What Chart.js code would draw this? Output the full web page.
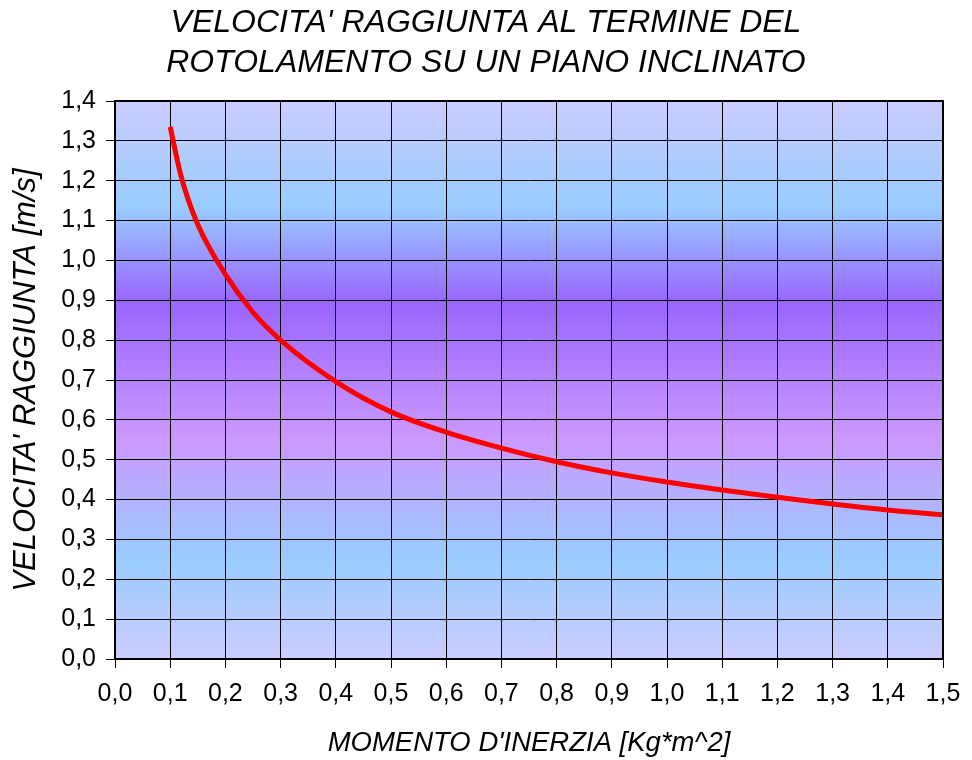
<!DOCTYPE html>
<html>
<head>
<meta charset="utf-8">
<script src="https://cdn.jsdelivr.net/npm/chart.js@4"></script>
<style>
  body { margin: 0; background: #fff; }
  #wrap { width: 972px; height: 760px; }
</style>
</head>
<body>
<div id="wrap"><canvas id="myChart" width="972" height="760"></canvas></div>
<script>
const titleLines = ["VELOCITA' RAGGIUNTA AL TERMINE DEL", "ROTOLAMENTO SU UN PIANO INCLINATO"];
const xTitle = "MOMENTO D'INERZIA [Kg*m^2]";
const yTitle = "VELOCITA' RAGGIUNTA [m/s]";

// momento d'inerzia (x) and velocita' (y)
const inertia = [0.1, 0.12, 0.15, 0.2, 0.25, 0.3, 0.4, 0.5, 0.6, 0.7, 0.8, 0.9, 1.0, 1.1, 1.2, 1.3, 1.4, 1.5];
const speed = [1.335, 1.21, 1.09, 0.965, 0.87, 0.8, 0.696, 0.62, 0.569, 0.529, 0.495, 0.467, 0.444, 0.424, 0.406, 0.389, 0.374, 0.362];

const fontFamily = "'Liberation Sans', Arial, sans-serif";

function formatTick(value) {
  return value.toFixed(1).replace(".", ",");
}

const plotBackground = {
  id: "plotBackground",
  beforeDraw(chart) {
    const { ctx, chartArea } = chart;
    ctx.save();
    ctx.fillStyle = "#fff";
    ctx.fillRect(0, 0, chart.width, chart.height);
    const g = ctx.createLinearGradient(0, chartArea.top, 0, chartArea.bottom);
    g.addColorStop(0, "#ccccff");
    g.addColorStop(0.19, "#99ccff");
    g.addColorStop(0.36, "#9966ff");
    g.addColorStop(0.61, "#cc99ff");
    g.addColorStop(0.82, "#99ccff");
    g.addColorStop(1, "#ccccff");
    ctx.fillStyle = g;
    ctx.fillRect(chartArea.left, chartArea.top, chartArea.right - chartArea.left, chartArea.bottom - chartArea.top);
    ctx.restore();
  },
  afterDatasetsDraw(chart) {
    const { ctx, chartArea } = chart;
    ctx.save();
    ctx.strokeStyle = "#000";
    ctx.lineWidth = 2;
    ctx.strokeRect(chartArea.left, chartArea.top, chartArea.right - chartArea.left, chartArea.bottom - chartArea.top);
    ctx.restore();
  },
};

const data = {
  datasets: [
    {
      label: "velocita",
      data: inertia.map((x, i) => ({ x: x, y: speed[i] })),
      borderColor: "#ff0000",
      borderWidth: 5,
      pointRadius: 0,
      cubicInterpolationMode: "monotone",
      fill: false,
    },
  ],
};

const config = {
  type: "line",
  data: data,
  options: {
    responsive: false,
    animation: false,
    layout: { padding: 0 },
    plugins: {
      legend: { display: false },
      tooltip: { enabled: false },
      title: {
        display: true,
        text: titleLines,
        color: "#000",
        font: { family: fontFamily, size: 32, style: "italic", weight: "normal", lineHeight: 1.25 },
        padding: { top: 3, bottom: 18 },
      },
    },
    scales: {
      x: {
        type: "linear",
        min: 0,
        max: 1.5,
        ticks: {
          stepSize: 0.1,
          color: "#000",
          padding: 11,
          font: { family: fontFamily, size: 25 },
          callback: formatTick,
          maxRotation: 0,
          autoSkip: false,
        },
        grid: { color: "#000", lineWidth: 1, tickLength: 9 },
        border: { color: "#000", width: 2 },
        title: {
          display: true,
          text: xTitle,
          color: "#000",
          font: { family: fontFamily, size: 27.5, style: "italic" },
          padding: { top: 6, bottom: 0 },
        },
        afterFit(scale) {
          scale.height = 101;
        },
      },
      y: {
        min: 0,
        max: 1.4,
        ticks: {
          stepSize: 0.1,
          color: "#000",
          padding: 10,
          font: { family: fontFamily, size: 25 },
          callback: formatTick,
          autoSkip: false,
        },
        grid: { color: "#000", lineWidth: 1, tickLength: 9 },
        border: { color: "#000", width: 2 },
        title: {
          display: true,
          text: yTitle,
          color: "#000",
          font: { family: fontFamily, size: 31, style: "italic" },
          padding: { top: 8, bottom: 4 },
        },
        afterFit(scale) {
          scale.width = 115;
        },
      },
      // empty right axis, only keeps the white margin right of the plot
      yRight: {
        position: "right",
        min: 0,
        max: 1.4,
        grid: { display: false },
        border: { display: false },
        ticks: { display: false },
        afterFit(scale) {
          scale.width = 29;
        },
      },
    },
  },
  plugins: [plotBackground],
};

let myChart = new Chart(document.getElementById("myChart"), config);
</script>
</body>
</html>
